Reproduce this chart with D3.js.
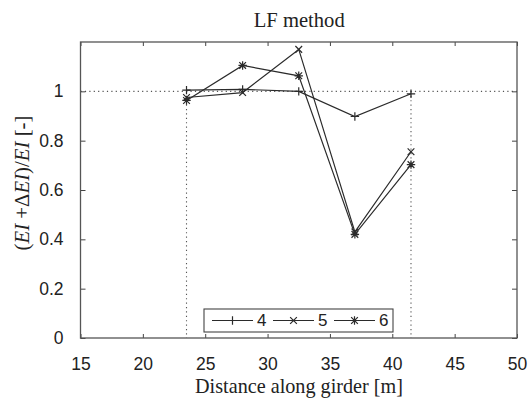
<!DOCTYPE html>
<html>
<head>
<meta charset="utf-8">
<script src="https://cdn.jsdelivr.net/npm/d3@7"></script>
<style>
  body { margin: 0; background: #fff; }
  svg { display: block; }
</style>
</head>
<body>
<svg id="chart" width="528" height="403"></svg>
<script>
// Measurement positions along the girder [m]
const positions = [23.5, 28.0, 32.5, 37.0, 41.5];
// Relative stiffness (EI + dEI)/EI for each damage case
const series4 = [1.005, 1.008, 1.0, 0.898, 0.99];
const series5 = [0.975, 0.995, 1.17, 0.43, 0.755];
const series6 = [0.963, 1.105, 1.063, 0.42, 0.703];
const seriesNames = ["4", "5", "6"];
const seriesMarkers = ["plus", "cross", "star"];
const xTicks = [15, 20, 25, 30, 35, 40, 45, 50];
const yTicks = [0, 0.2, 0.4, 0.6, 0.8, 1];
const xDomain = [15, 50];
const yDomain = [0, 1.2];
const referenceLevel = 1;
const spanEnds = [23.5, 41.5];

const svg = d3.select("#chart");
const W = 528, H = 403;
const plot = { left: 80.5, right: 517, top: 42, bottom: 338 };
const ink = "#2b2b2b";
const sans = "'Liberation Sans', Arial, sans-serif";
const serif = "'Liberation Serif', 'DejaVu Serif', serif";

svg.append("rect").attr("width", W).attr("height", H).attr("fill", "#fff");

const x = d3.scaleLinear().domain(xDomain).range([plot.left, plot.right]);
const y = d3.scaleLinear().domain(yDomain).range([plot.bottom, plot.top]);

function fitWidth(sel, target) {
  const len = sel.node().getComputedTextLength();
  const fs = parseFloat(sel.attr("font-size"));
  sel.attr("font-size", (fs * target / len).toFixed(2));
}

// reference lines: EI unchanged, and the instrumented span
const dotted = svg.append("g")
  .attr("stroke", "#555").attr("stroke-width", 1.1)
  .attr("stroke-dasharray", "1.2,3.2").attr("fill", "none");
dotted.append("line")
  .attr("x1", x(xDomain[0])).attr("x2", x(xDomain[1]))
  .attr("y1", y(referenceLevel)).attr("y2", y(referenceLevel));
spanEnds.forEach(v => {
  dotted.append("line")
    .attr("x1", x(v)).attr("x2", x(v))
    .attr("y1", y(referenceLevel)).attr("y2", y(yDomain[0]));
});

// axes with inward ticks, mirrored on top/right
const fmt = d3.format("~g");
const axB = svg.append("g").attr("transform", `translate(0,${plot.bottom})`)
  .call(d3.axisBottom(x).tickValues(xTicks).tickFormat(fmt).tickSizeInner(-4).tickSizeOuter(0).tickPadding(20));
const axL = svg.append("g").attr("transform", `translate(${plot.left},0)`)
  .call(d3.axisLeft(y).tickValues(yTicks).tickFormat(fmt).tickSizeInner(-5).tickSizeOuter(0).tickPadding(17));
const axT = svg.append("g").attr("transform", `translate(0,${plot.top})`)
  .call(d3.axisTop(x).tickValues(xTicks).tickFormat("").tickSizeInner(-4).tickSizeOuter(0));
const axR = svg.append("g").attr("transform", `translate(${plot.right},0)`)
  .call(d3.axisRight(y).tickValues(yTicks).tickFormat("").tickSizeInner(-5).tickSizeOuter(0));
[axB, axL, axT, axR].forEach(g => {
  g.select(".domain").remove();
  g.selectAll(".tick line").attr("stroke", "#444").attr("stroke-width", 1);
  g.selectAll(".tick text").attr("fill", "#222").attr("font-family", sans).attr("font-size", 17.5);
});

// plot frame
svg.append("rect")
  .attr("x", plot.left).attr("y", plot.top)
  .attr("width", plot.right - plot.left).attr("height", plot.bottom - plot.top)
  .attr("fill", "none").attr("stroke", "#555").attr("stroke-width", 1.3);

// markers
function markerPath(kind, r) {
  const plus = `M${-r},0H${r}M0,${-r}V${r}`;
  const c = r * 0.8;
  const cross = `M${-c},${-c}L${c},${c}M${-c},${c}L${c},${-c}`;
  if (kind === "plus") return plus;
  if (kind === "cross") return cross;
  return plus + cross;
}

const allSeries = [series4, series5, series6];
const line = d3.line().x((d, i) => x(positions[i])).y(d => y(d));

allSeries.forEach((vals, k) => {
  const g = svg.append("g");
  g.append("path").attr("d", line(vals))
    .attr("fill", "none").attr("stroke", ink).attr("stroke-width", 1.2);
  g.selectAll("path.m").data(vals).join("path").attr("class", "m")
    .attr("transform", (d, i) => `translate(${x(positions[i])},${y(d)})`)
    .attr("d", markerPath(seriesMarkers[k], 4.2))
    .attr("fill", "none").attr("stroke", ink).attr("stroke-width", 1.2);
});

// legend
const leg = { x: 204, y: 309, w: 189, h: 23, first: 212, step: 61, len: 41 };
svg.append("rect").attr("x", leg.x).attr("y", leg.y).attr("width", leg.w).attr("height", leg.h)
  .attr("fill", "#fff").attr("stroke", "#444").attr("stroke-width", 1.1);
seriesNames.forEach((name, k) => {
  const x0 = leg.first + k * leg.step, cy = leg.y + leg.h / 2;
  svg.append("line").attr("x1", x0).attr("x2", x0 + leg.len).attr("y1", cy).attr("y2", cy)
    .attr("stroke", ink).attr("stroke-width", 1.2);
  svg.append("path").attr("transform", `translate(${x0 + leg.len / 2},${cy})`)
    .attr("d", markerPath(seriesMarkers[k], 4.2))
    .attr("fill", "none").attr("stroke", ink).attr("stroke-width", 1.2);
  svg.append("text").attr("x", x0 + leg.len + 4).attr("y", cy).attr("dy", "0.35em")
    .attr("font-family", sans).attr("font-size", 17).attr("fill", "#222").text(name);
});

// title and axis titles
const title = svg.append("text").attr("x", (plot.left + plot.right) / 2 + 0.5).attr("y", 27)
  .attr("text-anchor", "middle").attr("font-family", serif).attr("font-size", 15)
  .attr("fill", "#222").text("LF method");
fitWidth(title, 91);

const xTitle = svg.append("text").attr("x", 299).attr("y", 393)
  .attr("text-anchor", "middle").attr("font-family", serif).attr("font-size", 15)
  .attr("fill", "#222").text("Distance along girder [m]");
fitWidth(xTitle, 208);

const yTitle = svg.append("text").attr("transform", "translate(29,183) rotate(-90)")
  .attr("text-anchor", "middle").attr("font-family", serif).attr("font-size", 15).attr("fill", "#222");
[["(", false], ["EI", true], [" +\u0394", false], ["EI", true], [")/", false], ["EI", true], [" [-]", false]]
  .forEach(([t, it]) => yTitle.append("tspan").attr("font-style", it ? "italic" : "normal").text(t));
fitWidth(yTitle, 135);
</script>
</body>
</html>
